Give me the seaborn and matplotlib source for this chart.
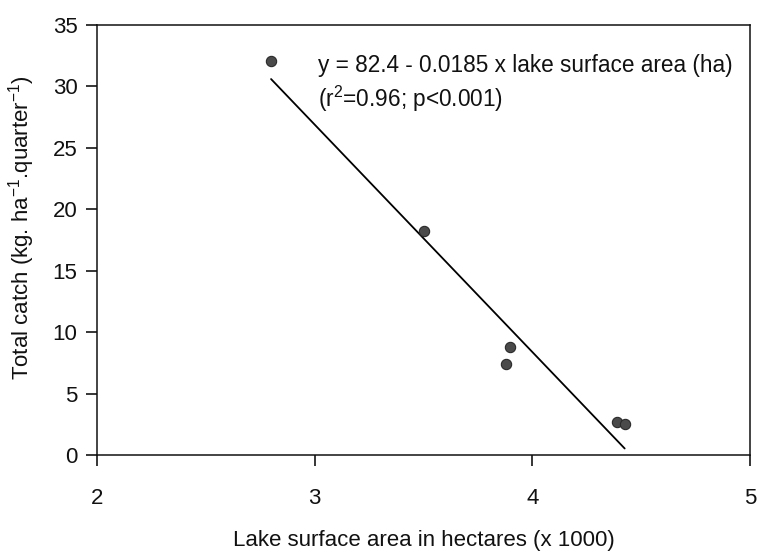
import numpy as np
import pandas as pd
import matplotlib
matplotlib.use("Agg")
import matplotlib.pyplot as plt
import seaborn as sns

# Data (lake surface area in thousands of ha, total catch)
lake_area = [2.80, 3.505, 3.90, 3.88, 4.39, 4.425]
total_catch = [32.1, 18.2, 8.8, 7.4, 2.7, 2.5]

# Regression coefficients (per 1000 ha)
intercept = 82.4
slope = -18.5

x_ticks = [2, 3, 4, 5]
y_ticks = [0, 5, 10, 15, 20, 25, 30, 35]

eq_line1 = "y = 82.4 - 0.0185 x lake surface area (ha)"
eq_line2 = "(r$^{2}$=0.96; p<0.001)"
x_label = "Lake surface area in hectares (x 1000)"
y_label = "Total catch (kg. ha$^{-1}$.quarter$^{-1}$)"

sns.set_style("ticks")
plt.rcParams['font.family'] = ['Liberation Sans', 'DejaVu Sans']
plt.rcParams['mathtext.fontset'] = 'custom'
plt.rcParams['mathtext.rm'] = 'Liberation Sans'
plt.rcParams['mathtext.it'] = 'Liberation Sans'
plt.rcParams['mathtext.default'] = 'regular'

df = pd.DataFrame({"area": lake_area, "catch": total_catch})

fig = plt.figure(figsize=(7.6, 5.55), dpi=100)
ax = fig.add_axes([0.1276, 0.18, 0.859, 0.775])

x_fit = np.array([min(lake_area), max(lake_area)])
y_fit = intercept + slope * x_fit
fit_df = pd.DataFrame({"area": x_fit, "catch": y_fit})
sns.lineplot(data=fit_df, x="area", y="catch", ax=ax, color="black", linewidth=1.3)

sns.scatterplot(data=df, x="area", y="catch", ax=ax, s=55, color="#4a4a4a",
                edgecolor="#2a2a2a", linewidth=0.8, zorder=3)

ax.set_xlim(2, 5)
ax.set_ylim(0, 35)
ax.set_xticks(x_ticks)
ax.set_yticks(y_ticks)
ax.tick_params(axis='both', labelsize=16, length=8, width=1.1, color='black',
               labelcolor='#111111')
ax.tick_params(axis='x', pad=16)
ax.tick_params(axis='y', pad=6)
for s in ax.spines.values():
    s.set_visible(True)
    s.set_linewidth(1.1)
    s.set_color('#111111')

ax.set_xlabel(x_label, fontsize=16, labelpad=15, color='#111111')
ax.set_ylabel(y_label, fontsize=16, color='#111111')
ax.yaxis.set_label_coords(-0.092, 0.528)

ax.text(3.015, 31.7, eq_line1, fontsize=16.3, ha='left', va='center', color='#111111')
ax.text(3.015, 29.0, eq_line2, fontsize=16.3, ha='left', va='center', color='#111111')

fig.savefig("out.png", dpi=100, facecolor="white")
